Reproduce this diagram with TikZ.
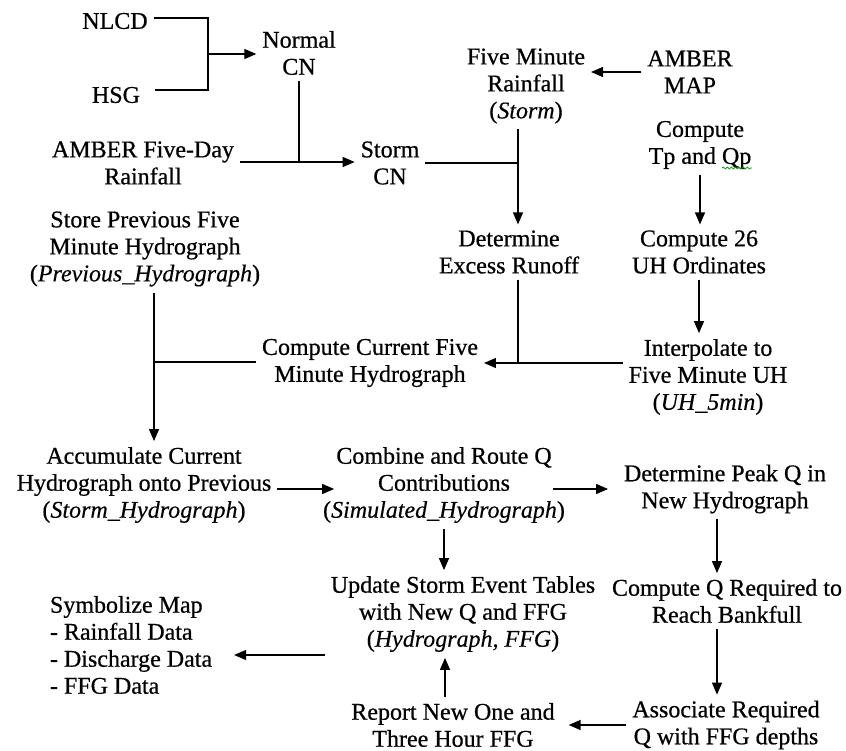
\documentclass[tikz,border=0pt]{standalone}
\usepackage{fontspec}
\setmainfont{Liberation Serif}[UprightFeatures={FakeBold=0.6},ItalicFeatures={FakeBold=0.3}]
\usetikzlibrary{arrows.meta,decorations.pathmorphing}
\begin{document}
\begin{tikzpicture}[x=1pt,y=-1pt,
  box/.style={align=center,inner sep=3pt,outer sep=3pt,font=\fontsize{24}{27}\selectfont},
  arr/.style={-{Triangle[length=12pt,width=10pt]}},
  every path/.style={line width=1.3pt}]
\useasboundingbox (0,0) rectangle (846,751);
% nodes
\node[box] (nlcd) at (115,21) {NLCD};
\node[box] (hsg) at (116,95) {HSG};
\node[box] (normal) at (299,53) {Normal\\CN};
\node[box] (amber5) at (143,163) {AMBER Five-Day\\Rainfall};
\node[box] (storm) at (390,163) {Storm\\CN};
\node[box] (fmr) at (526,86) {Five Minute\\Rainfall\\(\textit{Storm})};
\node[box] (amap) at (690,72) {AMBER\\MAP};
\node[box] (tp) at (700,145) {Compute\\Tp and Qp};
\node[box] (excess) at (509,252) {Determine\\Excess Runoff};
\node[box] (uh26) at (699,252) {Compute 26\\UH Ordinates};
\node[box] (prev) at (145,249) {Store Previous Five\\Minute Hydrograph\\(\textit{Previous\_Hydrograph})};
\node[box] (current) at (370,363) {Compute Current Five\\Minute Hydrograph};
\node[box] (interp) at (708,377) {Interpolate to\\Five Minute UH\\(\textit{UH\_5min})};
\node[box] (accum) at (144,485) {Accumulate Current\\Hydrograph onto Previous\\(\textit{Storm\_Hydrograph})};
\node[box] (combine) at (444,485) {Combine and Route Q\\Contributions\\(\textit{Simulated\_Hydrograph})};
\node[box] (peak) at (725,489) {Determine Peak Q in\\New Hydrograph};
\node[box] (update) at (463,614) {Update Storm Event Tables\\with New Q and FFG\\(\textit{Hydrograph, FFG})};
\node[box] (bank) at (727,601) {Compute Q Required to\\Reach Bankfull};
\node[box] (assoc) at (726,725) {Associate Required\\Q with FFG depths};
\node[box] (report) at (453,725) {Report New One and\\Three Hour FFG};
\node[box,align=left,anchor=west] (sym) at (44,645) {Symbolize Map\\- Rainfall Data\\- Discharge Data\\- FFG Data};
% junctions
\coordinate (jn) at (208,54);
\coordinate (jst) at (299,162);
\coordinate (jr) at (518,163);
\coordinate (jc) at (518,363);
\coordinate (jp) at (154,362);
\coordinate (ac) at ([yshift=-4pt]accum.east);
\coordinate (pk) at ([xshift=-8pt]peak.south);
\coordinate (bk) at ([xshift=-10pt]bank.south);
\coordinate (rp) at ([xshift=-8pt]report.north);
\coordinate (sy) at ([yshift=-10pt]sym.east);
% connectors
\draw ([yshift=3pt]nlcd.east) -| (jn);
\draw ([shift={(9pt,5pt)}]hsg.east) -| (jn);
\draw[arr] (jn) -- (jn -| normal.west);
\draw (normal.south) -- (jst);
\draw (amber5.east |- jst) -- (jst);
\draw[arr] (jst) -- (storm.west |- jst);
\draw (storm.east |- jr) -- (jr);
\draw (fmr.south -| jr) -- (jr);
\draw[arr] (jr) -- (jr |- excess.north);
\draw[arr] (amap.west) -- (fmr.east |- amap.west);
\draw[arr] (tp.south) -- (tp.south |- uh26.north);
\draw[arr] (uh26.south) -- (uh26.south |- interp.north);
\draw (excess.south -| jc) -- (jc);
\draw[arr] (interp.west |- jc) -- (current.east |- jc);
\draw (prev.south -| jp) -- (jp);
\draw (current.west |- jp) -- (jp);
\draw[arr] (jp) -- (jp |- accum.north);
\draw[arr, shorten >=-17pt] (ac) -- (ac -| combine.west);
\draw[arr, shorten >=10pt] (peak.west -| combine.east) ++(-18,0) -- (peak.west);
\draw[arr] (combine.south) -- (combine.south |- update.north);
\draw[arr] (pk) -- (pk |- bank.north);
\draw[arr] (bk) -- (bk |- assoc.north);
\draw[arr, shorten >=8pt] (assoc.west) -- (report.east |- assoc.west);
\draw[arr] (rp) -- (rp |- update.south);
\draw[arr, shorten >=16pt] (update.west |- sy) -- (sy);
% spell-check squiggle
\draw[green!60!black, line width=0.7pt, decorate, decoration={snake, amplitude=1pt, segment length=4pt}] (722,168) -- (752,168);
\end{tikzpicture}
\end{document}
